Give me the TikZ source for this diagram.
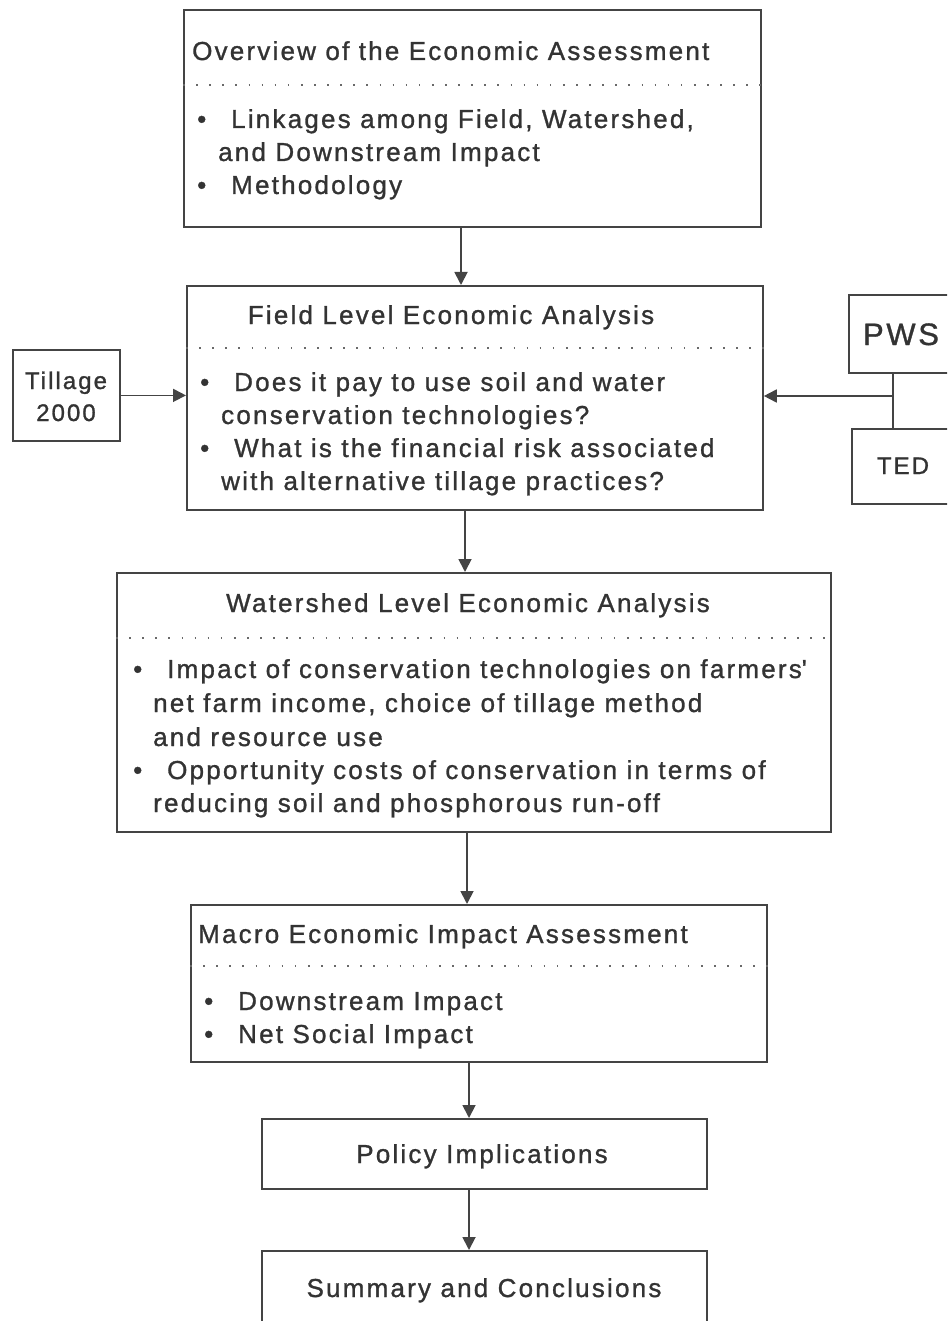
\documentclass[tikz,border=0pt]{standalone}
\usepackage{fontspec}
\setmainfont{Liberation Sans}[LetterSpace=8.5, FakeBold=1.1]
\usetikzlibrary{arrows.meta}
\definecolor{ink}{HTML}{333333}
\definecolor{rule}{HTML}{444444}
\newcommand\itemmark{\makebox[34pt][l]{•}}

\tikzset{
  frame/.style={draw=rule, line width=1.8pt, inner sep=0pt, anchor=north west},
  txt/.style={anchor=base west, yshift=-8pt, inner sep=0pt, text=ink, font=\fontsize{26}{30}\selectfont},
  ctxt/.style={txt, anchor=base},
  sep/.style={draw=rule!80, line width=1.6pt, dash pattern=on 1.6pt off 11.5pt},
  flow/.style={draw=rule, line width=1.8pt, -{Triangle[length=13pt,width=13pt]}},
  link/.style={draw=rule, line width=1.8pt},
}

\begin{document}
\begin{tikzpicture}[x=1pt, y=-1pt]
\useasboundingbox (0,0) rectangle (947,1321);
\clip (0,0) rectangle (947,1321);

% ---- frames ----
\node[frame, minimum width=577pt, minimum height=217pt] (ov) at (183,9) {};
\node[frame, minimum width=576pt, minimum height=224pt] (fl) at (186,285) {};
\node[frame, minimum width=107pt, minimum height=91pt]  (til) at (12,349) {};
\node[frame, minimum width=150pt, minimum height=78pt]  (pws) at (848,294) {};
\node[frame, minimum width=150pt, minimum height=75pt]  (ted) at (851,428) {};
\node[frame, minimum width=714pt, minimum height=259pt] (ws) at (116,572) {};
\node[frame, minimum width=576pt, minimum height=157pt] (mac) at (190,904) {};
\node[frame, minimum width=445pt, minimum height=70pt]  (pol) at (261,1118) {};
\node[frame, minimum width=445pt, minimum height=90pt]  (sum) at (261,1250) {};

% ---- dotted separators ----
\draw[sep] (ov.west |- 0,85) -- (ov.east |- 0,85);
\draw[sep] (fl.west |- 0,348) -- (fl.east |- 0,348);
\draw[sep] (ws.west |- 0,638) -- (ws.east |- 0,638);
\draw[sep] (mac.west |- 0,966) -- (mac.east |- 0,966);

% ---- overview ----
\node[txt] (ovT) at (192,52) {Overview of the Economic Assessment};
\node[txt] (ov1) at (197,120) {\itemmark Linkages among Field, Watershed,};
\node[txt] (ov2) at (218,153) {and Downstream Impact};
\node[txt] (ov3) at (197,186) {\itemmark Methodology};

% ---- field level ----
\node[ctxt] (flT) at (451,316) {Field Level Economic Analysis};
\node[txt] (fl1) at (200,383) {\itemmark Does it pay to use soil and water};
\node[txt] (fl2) at (221,416) {conservation technologies?};
\node[txt] (fl3) at (200,449) {\itemmark What is the financial risk associated};
\node[txt] (fl4) at (221,482) {with alternative tillage practices?};

% ---- side inputs ----
\node[ctxt, font=\fontsize{24}{28}\selectfont] (tilT1) at (66,381) {Tillage};
\node[ctxt, font=\fontsize{24}{28}\selectfont] (tilT2) at (66,413) {2000};
\node[ctxt, font=\fontsize{31}{34}\selectfont, yshift=-3pt] (pwsT) at (901,334) {PWS};
\node[ctxt, font=\fontsize{24}{28}\selectfont] (tedT) at (903,466) {TED};

% ---- watershed level ----
\node[ctxt] (wsT) at (468,604) {Watershed Level Economic Analysis};
\node[txt] (ws1) at (133,670) {\itemmark Impact of conservation technologies on farmers\textquotesingle};
\node[txt] (ws2) at (153,704) {net farm income, choice of tillage method};
\node[txt] (ws3) at (153,738) {and resource use};
\node[txt] (ws4) at (133,771) {\itemmark Opportunity costs of conservation in terms of};
\node[txt] (ws5) at (153,804) {reducing soil and phosphorous run-off};

% ---- macro ----
\node[txt] (macT) at (198,935) {Macro Economic Impact Assessment};
\node[txt] (mac1) at (204,1002) {\itemmark Downstream Impact};
\node[txt] (mac2) at (204,1035) {\itemmark Net Social Impact};

% ---- final stages ----
\node[ctxt] (polT) at (482,1155) {Policy Implications};
\node[ctxt] (sumT) at (484,1289) {Summary and Conclusions};

% ---- connectors ----
\coordinate (c1) at (461,0);
\coordinate (c2) at (465,0);
\coordinate (c3) at (467,0);
\coordinate (c4) at (469,0);
\coordinate (j) at (893,396);
\draw[flow] (ov.south -| c1) -- (fl.north -| c1);
\draw[flow] (fl.south -| c2) -- (ws.north -| c2);
\draw[flow] (ws.south -| c3) -- (mac.north -| c3);
\draw[flow] (mac.south -| c4) -- (pol.north -| c4);
\draw[flow] (pol.south -| c4) -- (sum.north -| c4);
\draw[flow] (til.east) -- (fl.west |- til.east);
\draw[link] (pws.south -| j) -- (ted.north -| j);
\draw[flow] (j) -- (fl.east |- j);
\end{tikzpicture}
\end{document}
